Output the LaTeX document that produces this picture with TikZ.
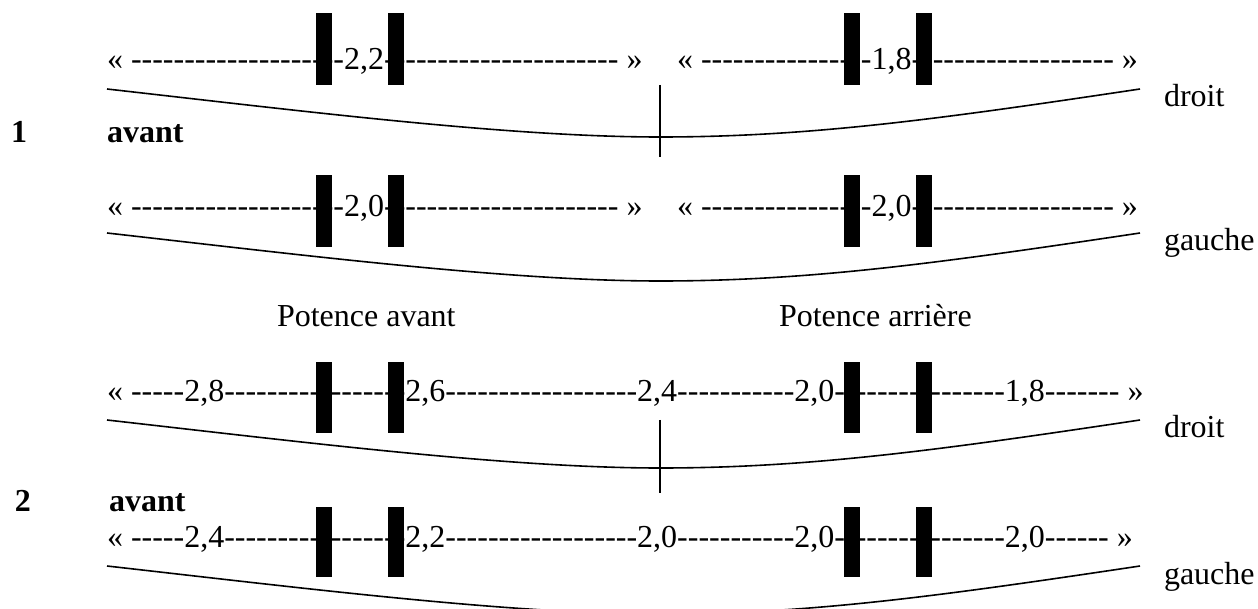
\documentclass[tikz,border=0pt]{standalone}
\usepackage{fontspec}
\setmainfont{Liberation Serif}[Ligatures=TeXOff]
\ExplSyntaxOn
\cs_new:Npn \myd #1 {\prg_replicate:nn {#1} {-}}
\ExplSyntaxOff
\begin{document}
\begin{tikzpicture}[x=0.375pt,y=-0.375pt,
  txt/.style={inner sep=0pt,outer sep=0pt,anchor=base west,font=\fontsize{12}{14}\selectfont},
  boldtxt/.style={txt,font=\fontsize{12}{14}\selectfont\bfseries},
  barbox/.style={fill=black},
  curveline/.style={line width=0.6pt},
  tickline/.style={line width=0.6pt}]
\useasboundingbox (0,0) rectangle (1258,609);

% row 1 texts
\node[txt] (r1a) at (107,70) {« \myd{20}2,2\myd{22} »};
\node[txt] (r1b) at (677,70) {« \myd{16}1,8\myd{19} »};
\node[txt] (r1c) at (107,217) {« \myd{20}2,0\myd{22} »};
\node[txt] (r1d) at (677,217) {« \myd{16}2,0\myd{19} »};
% row 2 texts
\node[txt] (r2a) at (107,402) {« \myd{5}2,8\myd{17}2,6\myd{18}2,4\myd{11}2,0\myd{16}1,8\myd{7} »};
\node[txt] (r2b) at (107,548) {« \myd{5}2,4\myd{17}2,2\myd{18}2,0\myd{11}2,0\myd{16}2,0\myd{6} »};

% labels
\node[txt] (d1) at (1164,107) {droit};
\node[txt] (g1) at (1164,251) {gauche};
\node[txt] (d2) at (1164,438) {droit};
\node[txt] (g2) at (1164,584) {gauche};
\node[boldtxt] (n1) at (11,143) {1};
\node[boldtxt] (a1) at (107,143) {avant};
\node[boldtxt] (n2) at (15,512) {2};
\node[boldtxt] (a2) at (109,512) {avant};
\node[txt] (pav) at (277,327) {Potence avant};
\node[txt] (par) at (779,327) {Potence arrière};

% curves
\foreach \dy in {0,144,331,477}{
  \draw[curveline] (107,89+\dy) .. controls (307,111.6+\dy) and (510,137+\dy) .. (660,137+\dy)
     .. controls (810,137+\dy) and (940,119+\dy) .. (1140,89+\dy);
}
% ticks
\draw[tickline] (660,85) -- (660,157);
\draw[tickline] (660,420) -- (660,493);

% bars
\foreach \ya/\yb in {13/85,175/247,362/433,507/577}{
  \fill[barbox] (316,\ya) rectangle (332,\yb);
  \fill[barbox] (388,\ya) rectangle (404,\yb);
  \fill[barbox] (844,\ya) rectangle (860,\yb);
  \fill[barbox] (916,\ya) rectangle (932,\yb);
}
\end{tikzpicture}
\end{document}
